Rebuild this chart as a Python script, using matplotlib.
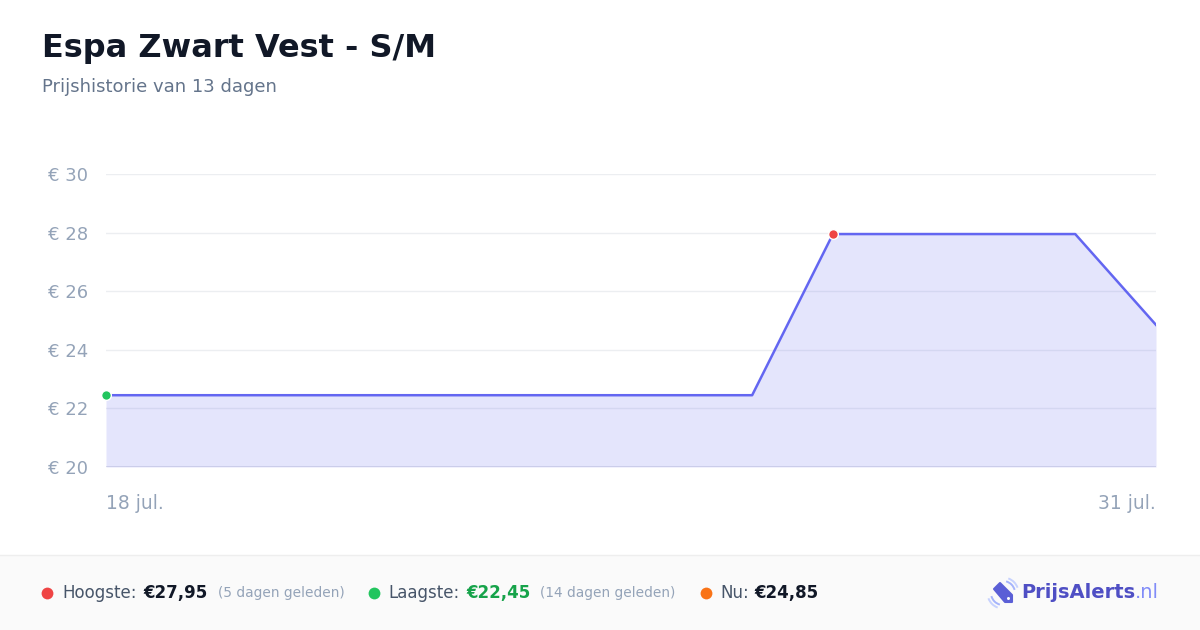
import matplotlib.pyplot as plt
from matplotlib.patches import Rectangle, Polygon, Arc, Circle
import numpy as np

# Data
dates = ['18 jul.', '19 jul.', '20 jul.', '21 jul.', '22 jul.', '23 jul.', '24 jul.',
         '25 jul.', '26 jul.', '27 jul.', '28 jul.', '29 jul.', '30 jul.', '31 jul.']
prices = [22.45, 22.45, 22.45, 22.45, 22.45, 22.45, 22.45,
          22.45, 22.45, 27.95, 27.95, 27.95, 27.95, 24.85]
y_ticks = [20, 22, 24, 26, 28, 30]

title = 'Espa Zwart Vest - S/M'
subtitle = 'Prijshistorie van 13 dagen'

plt.rcParams['font.family'] = ['DejaVu Sans']

fig = plt.figure(figsize=(12, 6.3), dpi=100)
fig.patch.set_facecolor('white')

x = np.arange(len(prices))
ax = fig.add_axes([106 / 1200, 1 - 467 / 630, 1050 / 1200, 293 / 630])
ax.set_facecolor('white')
ax.fill_between(x, prices, 20, color='#6366f1', alpha=0.17, linewidth=0, zorder=2)
ax.plot(x, prices, color='#6366f1', linewidth=1.8, zorder=3)

i_min = int(np.argmin(prices))
i_max = int(np.argmax(prices))
ax.plot(x[i_min], prices[i_min], 'o', color='#22c55e', markersize=7,
        markeredgecolor='white', markeredgewidth=1, zorder=4, clip_on=False)
ax.plot(x[i_max], prices[i_max], 'o', color='#ef4444', markersize=7,
        markeredgecolor='white', markeredgewidth=1, zorder=4, clip_on=False)

ax.set_xlim(0, len(prices) - 1)
ax.set_ylim(20, 30)
ax.set_yticks(y_ticks)
ax.set_yticklabels([f'€ {v}' for v in y_ticks])
ax.grid(axis='y', color='#eceef1', linewidth=1, zorder=1)
ax.set_axisbelow(True)
for s in ax.spines.values():
    s.set_visible(False)
ax.axhline(20, color='#dcdfe6', linewidth=1.2, zorder=1)
ax.tick_params(axis='y', length=0, pad=13, labelsize=13, labelcolor='#94a3b8')
ax.set_xticks([])

# x end labels
ax.text(0, -0.125, dates[0], transform=ax.transAxes, ha='left', va='center',
        fontsize=13.5, color='#94a3b8')
ax.text(1, -0.125, dates[-1], transform=ax.transAxes, ha='right', va='center',
        fontsize=13.5, color='#94a3b8')

# Title
fig.text(42 / 1200, 1 - 48 / 630, title, fontsize=23, fontweight='bold',
         color='#111827', va='center', ha='left')
fig.text(42 / 1200, 1 - 87 / 630, subtitle, fontsize=13, color='#64748b',
         va='center', ha='left')

# Footer
fig.patches.append(Rectangle((0, 0), 1, 75 / 630, transform=fig.transFigure,
                             facecolor='#fafafa', edgecolor='none', zorder=-2))
fig.lines.append(plt.Line2D([0, 1], [75 / 630, 75 / 630], transform=fig.transFigure,
                            color='#eeeeee', linewidth=1, zorder=-1))

fy = 1 - 593 / 630


def fx(px):
    return px / 1200


def dot_fig(px, color):
    fig.lines.append(plt.Line2D([fx(px)], [fy], transform=fig.transFigure,
                                marker='o', markersize=8.5, color=color,
                                markeredgewidth=0, linestyle='none'))


dot_fig(47, '#ef4444')
fig.text(fx(62), fy, 'Hoogste:', fontsize=12, color='#475569', va='center')
fig.text(fx(143), fy, '€27,95', fontsize=12, fontweight='bold', color='#111827', va='center')
fig.text(fx(218), fy, '(5 dagen geleden)', fontsize=9.9, color='#94a3b8', va='center')

dot_fig(374, '#22c55e')
fig.text(fx(388), fy, 'Laagste:', fontsize=12, color='#475569', va='center')
fig.text(fx(466), fy, '€22,45', fontsize=12, fontweight='bold', color='#16a34a', va='center')
fig.text(fx(540), fy, '(14 dagen geleden)', fontsize=9.9, color='#94a3b8', va='center')

dot_fig(706, '#f97316')
fig.text(fx(720), fy, 'Nu:', fontsize=12, color='#475569', va='center')
fig.text(fx(754), fy, '€24,85', fontsize=12, fontweight='bold', color='#111827', va='center')

# Logo icon (pixel units inside a small axes)
lax = fig.add_axes([986 / 1200, 1 - 610 / 630, 34 / 1200, 34 / 630])
lax.set_xlim(0, 34)
lax.set_ylim(0, 34)
lax.axis('off')
tag = Polygon([[8, 21], [14, 27], [26, 15], [26, 8], [19, 8]], closed=True,
              facecolor='#5b5fd6', edgecolor='#5b5fd6', linewidth=1.5, joinstyle='round')
lax.add_patch(tag)
lax.add_patch(Circle((22.5, 11.5), 1.5, facecolor='white', edgecolor='none'))
lax.add_patch(Arc((17, 17), 24, 24, theta1=195, theta2=255, color='#a5b4fc', linewidth=1.4))
lax.add_patch(Arc((17, 17), 31, 31, theta1=200, theta2=250, color='#c7d2fe', linewidth=1.4))
lax.add_patch(Arc((17, 17), 24, 24, theta1=15, theta2=75, color='#a5b4fc', linewidth=1.4))
lax.add_patch(Arc((17, 17), 31, 31, theta1=20, theta2=70, color='#c7d2fe', linewidth=1.4))

t = fig.text(fx(1021), fy, 'PrijsAlerts', fontsize=14, fontweight='bold',
             color='#4f4fc4', va='center', ha='left')
fig.canvas.draw()
bb = t.get_window_extent()
fig.text(bb.x1 / 1200, fy, '.nl', fontsize=14, color='#818cf8', va='center', ha='left')

plt.savefig('out.png', dpi=100, facecolor='white')
